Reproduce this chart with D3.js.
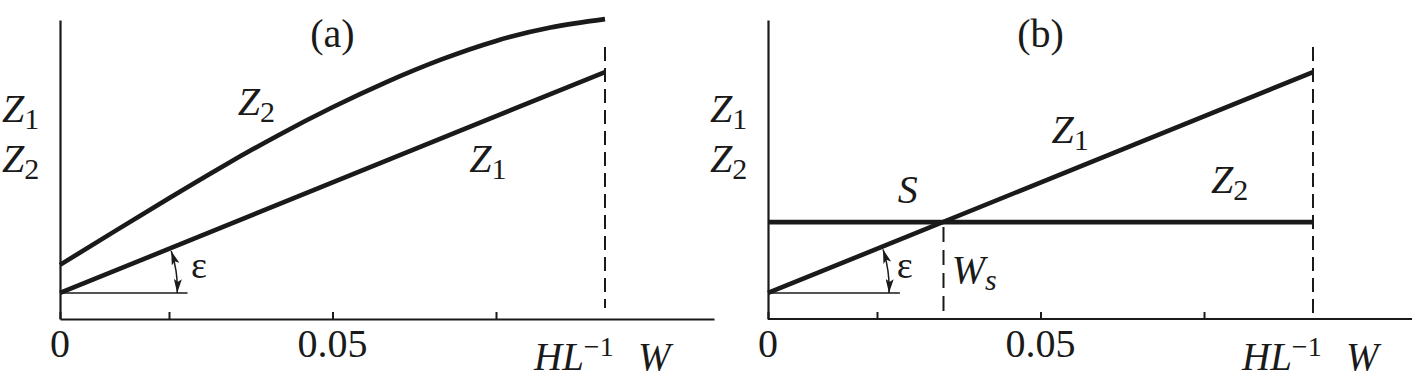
<!DOCTYPE html>
<html>
<head>
<meta charset="utf-8">
<script src="https://cdn.jsdelivr.net/npm/d3@7"></script>
</head>
<body style="margin:0">
<div id="chart"></div>
<script>
// values (x in HL^-1 units, y relative 0..1)
const xTicks = [0, 0.02, 0.05, 0.08];
const xTickLabels = ["0", "", "0.05", ""];
const xLimit = 0.1;                     // HL^-1

const z1X = [0, 0.1];
const z1Y = [0.087, 0.826];

const z2aX = [0, 0.01, 0.02, 0.03, 0.04, 0.05, 0.06, 0.07, 0.08, 0.09, 0.1];
const z2aY = [0.181, 0.293, 0.404, 0.512, 0.614, 0.708, 0.793, 0.868, 0.930, 0.975, 1.003];

const z2bX = [0, 0.1];
const z2bY = [0.324, 0.324];

const wS = 0.0322;                      // where Z1 crosses Z2 in (b)

const ink = "#1a1a1a";
const width = 1412, height = 385;
const margin = {top: 20, bottom: 66};
const panelLeft = [60, 768];
const panelWidth = 654;

const svg = d3.select("#chart")
    .append("svg")
    .attr("width", width)
    .attr("height", height)
    .attr("font-family", "Times New Roman");

const y = d3.scaleLinear()
    .domain([0, 1])
    .range([height - margin.bottom, margin.top]);

// every text goes through here so the serif face sticks
function label(parent, x, yy, size) {
    return parent.append("text")
        .attr("x", x).attr("y", yy)
        .attr("fill", ink)
        .attr("font-family", "Times New Roman")
        .attr("font-size", size);
}

function drawPanel(left, name, z2X, z2Y, opts) {
    const x = d3.scaleLinear()
        .domain([0, 0.12])
        .range([left, left + panelWidth]);

    const g = svg.append("g");

    // axes (tick labels written separately)
    const xAxis = g.append("g")
        .attr("transform", `translate(0,${y(0)})`)
        .call(d3.axisBottom(x)
            .tickValues(xTicks)
            .tickSizeInner(-7)
            .tickSizeOuter(0)
            .tickFormat(""));
    xAxis.select(".domain").attr("stroke", ink).attr("stroke-width", 2.2);
    xAxis.selectAll(".tick line").attr("stroke", ink).attr("stroke-width", 2);
    xAxis.selectAll(".tick text").remove();
    if (opts.axisToEdge) xAxis.select(".domain").attr("d", `M${x(0)},0H${width}`);

    xTicks.forEach((v, i) => {
        if (!xTickLabels[i]) return;
        label(g, x(v), y(0) + 38, 40)
            .attr("text-anchor", "middle")
            .text(xTickLabels[i]);
    });

    const yAxis = g.append("g")
        .attr("transform", `translate(${x(0)},0)`)
        .call(d3.axisLeft(y).tickValues([]).tickSizeOuter(0));
    yAxis.select(".domain").attr("stroke", ink).attr("stroke-width", 2.2);

    // dashed limit at HL^-1
    g.append("line")
        .attr("x1", x(xLimit)).attr("x2", x(xLimit))
        .attr("y1", 47).attr("y2", opts.dashBottom)
        .attr("stroke", ink).attr("stroke-width", 2)
        .attr("stroke-dasharray", "14,7");

    const line = d3.line()
        .x(d => x(d[0]))
        .y(d => y(d[1]))
        .curve(d3.curveNatural);

    // angle epsilon: thin baseline + double arrow
    g.append("line")
        .attr("x1", x(0)).attr("x2", x(opts.epsEnd))
        .attr("y1", y(z1Y[0])).attr("y2", y(z1Y[0]))
        .attr("stroke", ink).attr("stroke-width", 1.6);

    const z1At = v => z1Y[0] + (z1Y[1] - z1Y[0]) * (v - z1X[0]) / (z1X[1] - z1X[0]);
    const ax1 = x(opts.arrowX), ay1 = y(z1At(opts.arrowX)) + 3;
    const ax2 = x(opts.arrowX + 0.0011), ay2 = y(z1Y[0]);
    g.append("path")
        .attr("d", `M${ax1},${ay1}Q${ax1 + 7},${(ay1 + ay2) / 2} ${ax2},${ay2}`)
        .attr("fill", "none").attr("stroke", ink).attr("stroke-width", 1.5)
        .attr("marker-start", "url(#arrS)").attr("marker-end", "url(#arrE)");

    // curves
    g.append("path")
        .datum(z2X.map((v, i) => [v, z2Y[i]]))
        .attr("d", line)
        .attr("fill", "none").attr("stroke", ink).attr("stroke-width", 4.6);

    g.append("path")
        .datum(z1X.map((v, i) => [v, z1Y[i]]))
        .attr("d", line)
        .attr("fill", "none").attr("stroke", ink).attr("stroke-width", 4.6);

    if (opts.ws) {
        g.append("line")
            .attr("x1", x(wS)).attr("x2", x(wS))
            .attr("y1", y(z2bY[0]) + 5).attr("y2", y(0) - 6)
            .attr("stroke", ink).attr("stroke-width", 2)
            .attr("stroke-dasharray", "15,8");
    }

    // panel label
    label(g, x(0.05), 47, 40)
        .attr("text-anchor", "middle")
        .text(name);

    // y axis label Z1 / Z2
    [["1", 122], ["2", 172]].forEach(([s, by]) => {
        const t = label(g, left - 58, by, 40);
        t.append("tspan").attr("font-style", "italic").text("Z");
        t.append("tspan").attr("dy", 7).attr("font-size", 30).text(s);
    });

    // series labels
    opts.labels.forEach(l => {
        const t = label(g, x(l.x), y(l.y), 40);
        t.append("tspan").attr("font-style", "italic").text(l.main);
        if (l.sub) {
            t.append("tspan").attr("dy", 7)
                .attr("font-size", 30)
                .attr("font-style", l.subItalic ? "italic" : "normal")
                .text(l.sub);
        }
    });

    // epsilon
    label(g, x(opts.epsLabel), y(0.137), 38)
        .attr("text-anchor", "middle")
        .text("ε");

    // axis title HL^-1  W
    const t = label(g, x(xLimit) - 71, 370, 39);
    t.append("tspan").attr("font-style", "italic").text("HL");
    t.append("tspan").attr("dy", -14).attr("font-size", 28).text("−1");
    label(g, x(xLimit) + 33, 370, 39)
        .attr("font-style", "italic")
        .text("W");
}

const defs = svg.append("defs");
defs.append("marker").attr("id", "arrE")
    .attr("viewBox", "0 0 14 8").attr("refX", 14).attr("refY", 4)
    .attr("markerWidth", 14).attr("markerHeight", 8)
    .attr("markerUnits", "userSpaceOnUse").attr("orient", "auto")
    .append("path").attr("d", "M0,0L14,4L0,8L3,4Z").attr("fill", ink);
defs.append("marker").attr("id", "arrS")
    .attr("viewBox", "0 0 14 8").attr("refX", 0).attr("refY", 4)
    .attr("markerWidth", 14).attr("markerHeight", 8)
    .attr("markerUnits", "userSpaceOnUse").attr("orient", "auto")
    .append("path").attr("d", "M14,0L0,4L14,8L11,4Z").attr("fill", ink);

drawPanel(panelLeft[0], "(a)", z2aX, z2aY, {
    dashBottom: 308, epsEnd: 0.0234, arrowX: 0.0204, epsLabel: 0.0255,
    labels: [
        {main: "Z", sub: "2", x: 0.0326, y: 0.682},
        {main: "Z", sub: "1", x: 0.0751, y: 0.492}
    ]
});

drawPanel(panelLeft[1], "(b)", z2bX, z2bY, {
    dashBottom: 318, epsEnd: 0.0242, arrowX: 0.0211, epsLabel: 0.0251, ws: true,
    axisToEdge: true,
    labels: [
        {main: "Z", sub: "1", x: 0.052, y: 0.589},
        {main: "Z", sub: "2", x: 0.0813, y: 0.421},
        {main: "S", x: 0.0238, y: 0.388},
        {main: "W", sub: "s", subItalic: true, x: 0.0337, y: 0.120}
    ]
});
</script>
</body>
</html>
